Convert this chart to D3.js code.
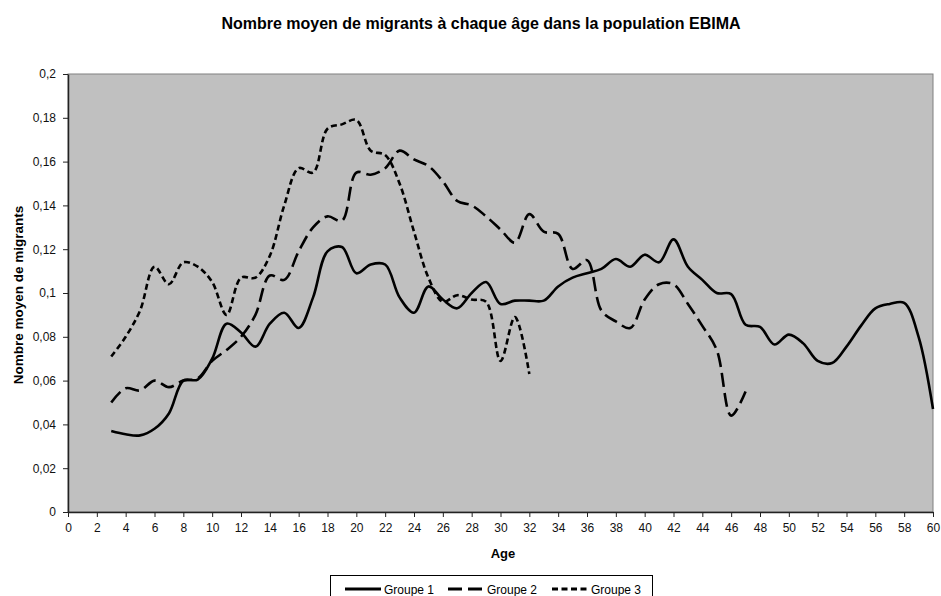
<!DOCTYPE html>
<html>
<head>
<meta charset="utf-8">
<script src="https://cdn.jsdelivr.net/npm/d3@7"></script>
<style>
  body { margin: 0; background: #fff; }
  text { font-family: "Liberation Sans", Arial, sans-serif; }
</style>
</head>
<body>
<div class="chart"></div>
<script>
// data
var ages1 = d3.range(3, 61);
var groupe1 = [0.037, 0.0355, 0.035, 0.038, 0.045, 0.060, 0.0605, 0.070, 0.086, 0.082,
    0.0755, 0.086, 0.091, 0.084, 0.098, 0.119, 0.121, 0.109, 0.113, 0.113,
    0.098, 0.091, 0.103, 0.097, 0.093, 0.100, 0.105, 0.095, 0.0965, 0.0965,
    0.0965, 0.103, 0.107, 0.109, 0.111, 0.1155, 0.112, 0.1175, 0.114, 0.1245,
    0.112, 0.106, 0.100, 0.0995, 0.0855, 0.0845, 0.0765, 0.081, 0.077, 0.069,
    0.068, 0.0755, 0.085, 0.093, 0.095, 0.0955, 0.080, 0.047];
var ages2 = d3.range(3, 48);
var groupe2 = [0.050, 0.0565, 0.0555, 0.060, 0.057, 0.060, 0.061, 0.069, 0.074, 0.080,
    0.090, 0.108, 0.106, 0.119, 0.130, 0.135, 0.133, 0.155, 0.154, 0.157,
    0.165, 0.161, 0.158, 0.151, 0.142, 0.140, 0.135, 0.129, 0.123, 0.136,
    0.128, 0.127, 0.111, 0.115, 0.092, 0.087, 0.084, 0.097, 0.104, 0.104,
    0.095, 0.085, 0.074, 0.044, 0.055];
var ages3 = d3.range(3, 33);
var groupe3 = [0.071, 0.080, 0.092, 0.112, 0.104, 0.114, 0.112, 0.105, 0.090, 0.107,
    0.107, 0.117, 0.140, 0.157, 0.155, 0.175, 0.177, 0.179, 0.165, 0.163,
    0.150, 0.128, 0.107, 0.096, 0.099, 0.097, 0.096, 0.069, 0.089, 0.063];
var seriesNames = ["Groupe 1", "Groupe 2", "Groupe 3"];
var xTicks = d3.range(0, 61, 2);
var yTicks = d3.range(0, 0.2001, 0.02);

var dashes = [null, "14,6", "6,3.5"];

var W = 941, H = 596;
var margin = { top: 74, right: 8, bottom: 84, left: 68 },
    width = 933 - margin.left,
    height = 512 - margin.top;

var svg = d3.select(".chart")
    .append("svg")
    .attr("width", W)
    .attr("height", H);

var g = svg.append("g")
    .attr("transform", "translate(" + margin.left + "," + margin.top + ")");

var x = d3.scaleLinear().domain([0, 60]).range([0, width]);
var y = d3.scaleLinear().domain([0, 0.2]).range([height, 0]);

var fr = d3.formatLocale({ decimal: ",", thousands: " ", grouping: [3], currency: ["", ""] });
var fmt = function (d) { return d === 0 ? "0" : fr.format("~g")(+d.toFixed(2)); };

// plot area
g.append("rect")
    .attr("width", width)
    .attr("height", height)
    .attr("fill", "#c0c0c0")
    .attr("stroke", "#808080")
    .attr("stroke-width", 1);

// axes
var yAxis = g.append("g")
    .call(d3.axisLeft(y).tickValues(yTicks).tickFormat(fmt).tickSize(5).tickSizeOuter(0));
var xAxis = g.append("g")
    .attr("transform", "translate(0," + height + ")")
    .call(d3.axisBottom(x).tickValues(xTicks).tickSize(5).tickSizeOuter(0));
[xAxis, yAxis].forEach(function (a) {
    a.select(".domain").attr("stroke", "#222").attr("stroke-width", 1.5);
    a.selectAll(".tick line").attr("stroke", "#222");
    a.selectAll(".tick text").attr("fill", "#111").style("font-size", "12px")
        .style("font-family", "'Liberation Sans', Arial, sans-serif");
});
yAxis.selectAll(".tick text").attr("x", -12);
xAxis.selectAll(".tick text").attr("y", 11);

// lines
var line = d3.line()
    .x(function (d) { return x(d[0]); })
    .y(function (d) { return y(d[1]); })
    .curve(d3.curveCatmullRom.alpha(0.5));

var allData = [
    d3.zip(ages1, groupe1),
    d3.zip(ages2, groupe2),
    d3.zip(ages3, groupe3)
];

g.selectAll("path.serie")
    .data(allData)
    .enter().append("path")
    .attr("class", "serie")
    .attr("d", line)
    .attr("fill", "none")
    .attr("stroke", "#000")
    .attr("stroke-width", 2.6)
    .attr("stroke-dasharray", function (d, i) { return dashes[i]; });

// titles
svg.append("text")
    .attr("x", 481)
    .attr("y", 29)
    .attr("text-anchor", "middle")
    .style("font-size", "16px")
    .style("font-weight", "bold")
    .text("Nombre moyen de migrants à chaque âge dans la population EBIMA");

svg.append("text")
    .attr("transform", "translate(23," + (margin.top + height / 2 + 2) + ") rotate(-90)")
    .attr("text-anchor", "middle")
    .style("font-size", "13.5px")
    .style("font-weight", "bold")
    .text("Nombre moyen de migrants");

svg.append("text")
    .attr("x", 503)
    .attr("y", 558)
    .attr("text-anchor", "middle")
    .style("font-size", "13px")
    .style("font-weight", "bold")
    .text("Age");

// legend
var legend = svg.append("g");
legend.append("rect")
    .attr("x", 330.5)
    .attr("y", 575.5)
    .attr("width", 322)
    .attr("height", 30)
    .attr("fill", "#fff")
    .attr("stroke", "#000");

var legX = [345, 448, 552];
seriesNames.forEach(function (name, i) {
    legend.append("line")
        .attr("x1", legX[i])
        .attr("x2", legX[i] + 36)
        .attr("y1", 589)
        .attr("y2", 589)
        .attr("stroke", "#000")
        .attr("stroke-width", 3)
        .attr("stroke-dasharray", dashes[i]);
    legend.append("text")
        .attr("x", legX[i] + 39)
        .attr("y", 593.5)
        .style("font-size", "12px")
        .text(name);
});
</script>
</body>
</html>
